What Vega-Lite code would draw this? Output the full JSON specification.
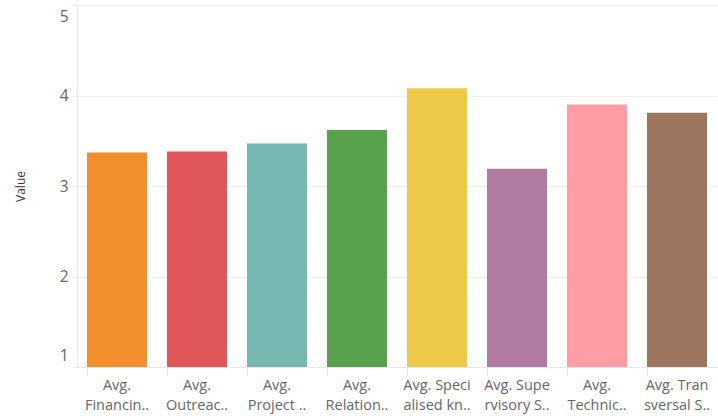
{
  "$schema": "https://vega.github.io/schema/vega-lite/v6.json",
  "width": 640,
  "height": 362,
  "autosize": {"type": "none"},
  "padding": {"left": 77, "top": 5, "right": 1, "bottom": 52},
  "background": "white",
  "config": {
    "font": "Open Sans",
    "view": {"stroke": null}
  },
  "data": {
    "values": [
      {"measure": "Avg.|Financin..", "value": 3.37},
      {"measure": "Avg.|Outreac..", "value": 3.38},
      {"measure": "Avg.|Project ..", "value": 3.47},
      {"measure": "Avg.|Relation..", "value": 3.62},
      {"measure": "Avg. Speci|alised kn..", "value": 4.08},
      {"measure": "Avg. Supe|rvisory S..", "value": 3.19},
      {"measure": "Avg.|Technic..", "value": 3.9},
      {"measure": "Avg. Tran|sversal S..", "value": 3.81}
    ]
  },
  "mark": {"type": "bar", "clip": true},
  "encoding": {
    "x": {
      "field": "measure",
      "type": "nominal",
      "sort": null,
      "scale": {"paddingInner": 0.25, "paddingOuter": 0.125},
      "axis": {
        "title": null,
        "labelAngle": 0,
        "labelExpr": "split(datum.value, '|')",
        "labelFontSize": 14.5,
        "labelColor": "#666666",
        "labelLineHeight": 20,
        "labelPadding": 3,
        "tickSize": 8,
        "tickColor": "#e6e6e6",
        "bandPosition": 0,
        "domainColor": "#e6e6e6",
        "labelLimit": 200
      }
    },
    "y": {
      "field": "value",
      "type": "quantitative",
      "scale": {"domain": [1, 5], "zero": false, "nice": false},
      "axis": {
        "title": "Value",
        "titleFontSize": 12,
        "titleFontWeight": "normal",
        "titleColor": "#333333",
        "titlePadding": 32,
        "values": [1, 2, 3, 4, 5],
        "labelFontSize": 15.5,
        "labelColor": "#666666",
        "labelFlush": true,
        "labelFlushOffset": -4,
        "labelPadding": 4,
        "tickSize": 5,
        "tickColor": "#eeeeee",
        "gridColor": "#f0f0f0",
        "domainColor": "#e6e6e6"
      }
    },
    "color": {
      "field": "measure",
      "type": "nominal",
      "sort": null,
      "scale": {"range": ["#F28E2B", "#E15759", "#76B7B2", "#59A14F", "#EDC948", "#B07AA1", "#FF9DA7", "#9C755F"]},
      "legend": null
    }
  }
}
